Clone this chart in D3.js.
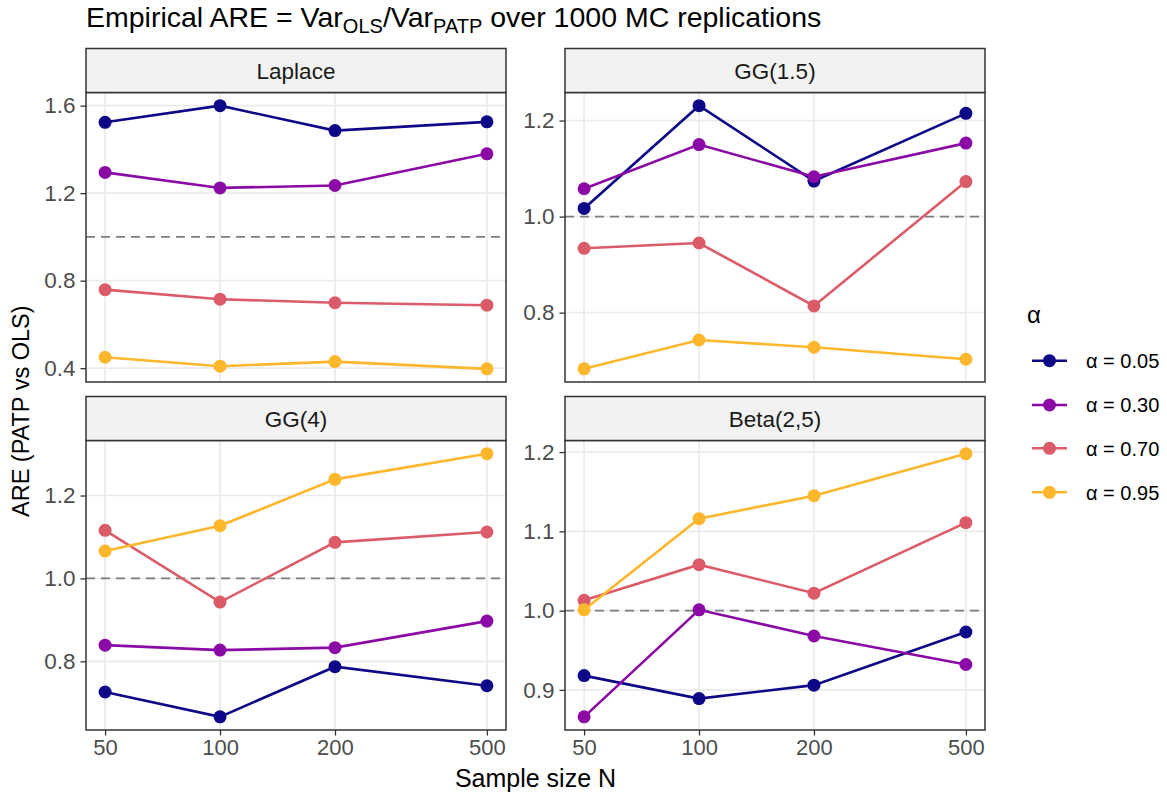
<!DOCTYPE html>
<html><head><meta charset="utf-8">
<script src="https://cdn.jsdelivr.net/npm/d3@7"></script>
<style>
body{margin:0;background:#fff}
text{font-family:"Liberation Sans",Arial,Helvetica,sans-serif}
</style>
</head><body>
<svg id="chart" width="1167" height="799"></svg>
<script>
// ---- data ----
const sampleSizes = [50, 100, 200, 500];
const alphaLabels = ["α = 0.05", "α = 0.30", "α = 0.70", "α = 0.95"];
const facetNames = ["Laplace", "GG(1.5)", "GG(4)", "Beta(2,5)"];

const laplaceA05 = [1.524, 1.600, 1.486, 1.526];
const laplaceA30 = [1.295, 1.224, 1.235, 1.380];
const laplaceA70 = [0.759, 0.715, 0.699, 0.688];
const laplaceA95 = [0.450, 0.409, 0.430, 0.397];

const gg15A05 = [1.017, 1.231, 1.074, 1.215];
const gg15A30 = [1.058, 1.150, 1.083, 1.153];
const gg15A70 = [0.934, 0.945, 0.814, 1.073];
const gg15A95 = [0.683, 0.743, 0.728, 0.703];

const gg4A05 = [0.726, 0.666, 0.787, 0.741];
const gg4A30 = [0.839, 0.827, 0.833, 0.897];
const gg4A70 = [1.116, 0.943, 1.087, 1.112];
const gg4A95 = [1.066, 1.127, 1.239, 1.301];

const betaA05 = [0.918, 0.889, 0.906, 0.973];
const betaA30 = [0.866, 1.001, 0.968, 0.932];
const betaA70 = [1.013, 1.058, 1.022, 1.111];
const betaA95 = [1.001, 1.116, 1.145, 1.198];

const laplaceTicks = [0.4, 0.8, 1.2, 1.6];
const gg15Ticks = [0.8, 1.0, 1.2];
const gg4Ticks = [0.8, 1.0, 1.2];
const betaTicks = [0.9, 1.0, 1.1, 1.2];
const xTickLabels = ["50", "100", "200", "500"];
const referenceLine = 1.0;

// ---- styles ----
const alphaColors = ["#0D0887", "#8B0AA5", "#DB5C68", "#FEB72D"];

const facets = [
  {name: facetNames[0], series: [laplaceA05, laplaceA30, laplaceA70, laplaceA95], ticks: laplaceTicks},
  {name: facetNames[1], series: [gg15A05, gg15A30, gg15A70, gg15A95], ticks: gg15Ticks},
  {name: facetNames[2], series: [gg4A05, gg4A30, gg4A70, gg4A95], ticks: gg4Ticks},
  {name: facetNames[3], series: [betaA05, betaA30, betaA70, betaA95], ticks: betaTicks}
];

const svg = d3.select("#chart");
const colX = [86, 565];
const panelW = 420;
const stripH = 44;
const rowTop = [48.5, 396.5];
const panelH = 289.5;
const tickLen = 5.5;

// x scale: log with 5% expansion in log space
const lx = [Math.log10(d3.min(sampleSizes)), Math.log10(d3.max(sampleSizes))];
const lpad = (lx[1] - lx[0]) * 0.05;
const x = d3.scaleLog().domain([10 ** (lx[0] - lpad), 10 ** (lx[1] + lpad)]).range([0, panelW]);

// title
const title = svg.append("text").attr("x", 86).attr("y", 27).attr("font-size", 28.5).attr("fill", "#000");
title.append("tspan").text("Empirical ARE = Var");
title.append("tspan").attr("font-size", 20).attr("dy", 6).text("OLS");
title.append("tspan").attr("dy", -6).text("/Var");
title.append("tspan").attr("font-size", 20).attr("dy", 6).text("PATP");
title.append("tspan").attr("dy", -6).text(" over 1000 MC replications");

facets.forEach((f, i) => {
  const col = i % 2, row = Math.floor(i / 2);
  const px = colX[col], sy = rowTop[row], py = sy + stripH;
  const g = svg.append("g").attr("transform", `translate(${px},${py})`);

  const all = f.series.flat();
  const mn = d3.min(all), mx = d3.max(all), pad = (mx - mn) * 0.05;
  const y = d3.scaleLinear().domain([mn - pad, mx + pad]).range([panelH, 0]);

  // grid
  g.append("g").selectAll("line.gy").data(f.ticks).join("line")
    .attr("x1", 0).attr("x2", panelW).attr("y1", d => y(d)).attr("y2", d => y(d))
    .attr("stroke", "#EBEBEB").attr("stroke-width", 1.7);
  g.append("g").selectAll("line.gx").data(sampleSizes).join("line")
    .attr("x1", d => x(d)).attr("x2", d => x(d)).attr("y1", 0).attr("y2", panelH)
    .attr("stroke", "#EBEBEB").attr("stroke-width", 1.7);

  // reference dashed line
  g.append("line").attr("x1", 0).attr("x2", panelW)
    .attr("y1", y(referenceLine)).attr("y2", y(referenceLine))
    .attr("stroke", "#7F7F7F").attr("stroke-width", 1.7).attr("stroke-dasharray", "9,6");

  // lines
  const line = d3.line().x((d, j) => x(sampleSizes[j])).y(d => y(d));
  f.series.forEach((s, k) => {
    g.append("path").datum(s).attr("d", line).attr("fill", "none")
      .attr("stroke", alphaColors[k]).attr("stroke-width", 2.6);
  });
  f.series.forEach((s, k) => {
    g.append("g").selectAll("circle").data(s).join("circle")
      .attr("cx", (d, j) => x(sampleSizes[j])).attr("cy", d => y(d)).attr("r", 6.5)
      .attr("fill", alphaColors[k]);
  });

  // border
  g.append("rect").attr("x", 0).attr("y", 0).attr("width", panelW).attr("height", panelH)
    .attr("fill", "none").attr("stroke", "#333333").attr("stroke-width", 1.5);

  // strip
  svg.append("rect").attr("x", px).attr("y", sy).attr("width", panelW).attr("height", stripH)
    .attr("fill", "#F2F2F2").attr("stroke", "#333333").attr("stroke-width", 1.5);
  svg.append("text").attr("x", px + panelW / 2).attr("y", sy + stripH / 2).attr("dy", "0.36em")
    .attr("text-anchor", "middle").attr("font-size", 22.5).attr("fill", "#1A1A1A").text(f.name);

  // y axis
  const ya = g.append("g").call(d3.axisLeft(y).tickValues(f.ticks).tickSize(tickLen).tickPadding(5).tickFormat(d3.format(".1f")));
  ya.select(".domain").remove();
  ya.selectAll(".tick line").attr("stroke", "#333333").attr("stroke-width", 1.3);
  ya.selectAll(".tick text").attr("font-size", 22.5).attr("fill", "#4D4D4D")
    .attr("font-family", "'Liberation Sans',Arial,sans-serif");

  // x axis (bottom row only)
  if (row === 1) {
    const xa = g.append("g").attr("transform", `translate(0,${panelH})`)
      .call(d3.axisBottom(x).tickValues(sampleSizes).tickSize(tickLen).tickPadding(4)
        .tickFormat((d, j) => xTickLabels[j]));
    xa.select(".domain").remove();
    xa.selectAll(".tick line").attr("stroke", "#333333").attr("stroke-width", 1.3);
    xa.selectAll(".tick text").attr("font-size", 22).attr("fill", "#4D4D4D")
      .attr("font-family", "'Liberation Sans',Arial,sans-serif");
  }
});

// axis titles
svg.append("text").attr("x", (colX[0] + colX[1] + panelW) / 2).attr("y", 787)
  .attr("text-anchor", "middle").attr("font-size", 25).attr("fill", "#000").text("Sample size N");
svg.append("text").attr("transform", `translate(29,${(rowTop[0] + rowTop[1] + stripH + panelH) / 2 + 22}) rotate(-90)`)
  .attr("text-anchor", "middle").attr("font-size", 23.5).attr("fill", "#000").text("ARE (PATP vs OLS)");

// legend
const lg = svg.append("g");
lg.append("text").attr("x", 1027).attr("y", 323).attr("font-size", 24)
  .attr("font-family", "'Liberation Serif','DejaVu Serif',serif").text("α");
const rowsY = [360.7, 405, 448.3, 492.3];
alphaLabels.forEach((lab, k) => {
  lg.append("line").attr("x1", 1032).attr("x2", 1067).attr("y1", rowsY[k]).attr("y2", rowsY[k])
    .attr("stroke", alphaColors[k]).attr("stroke-width", 2.6);
  lg.append("circle").attr("cx", 1049.5).attr("cy", rowsY[k]).attr("r", 6.5).attr("fill", alphaColors[k]);
  lg.append("text").attr("x", 1086).attr("y", rowsY[k]).attr("dy", "0.36em").attr("font-size", 20)
    .attr("fill", "#000").text(lab);
});
</script>
</body></html>
